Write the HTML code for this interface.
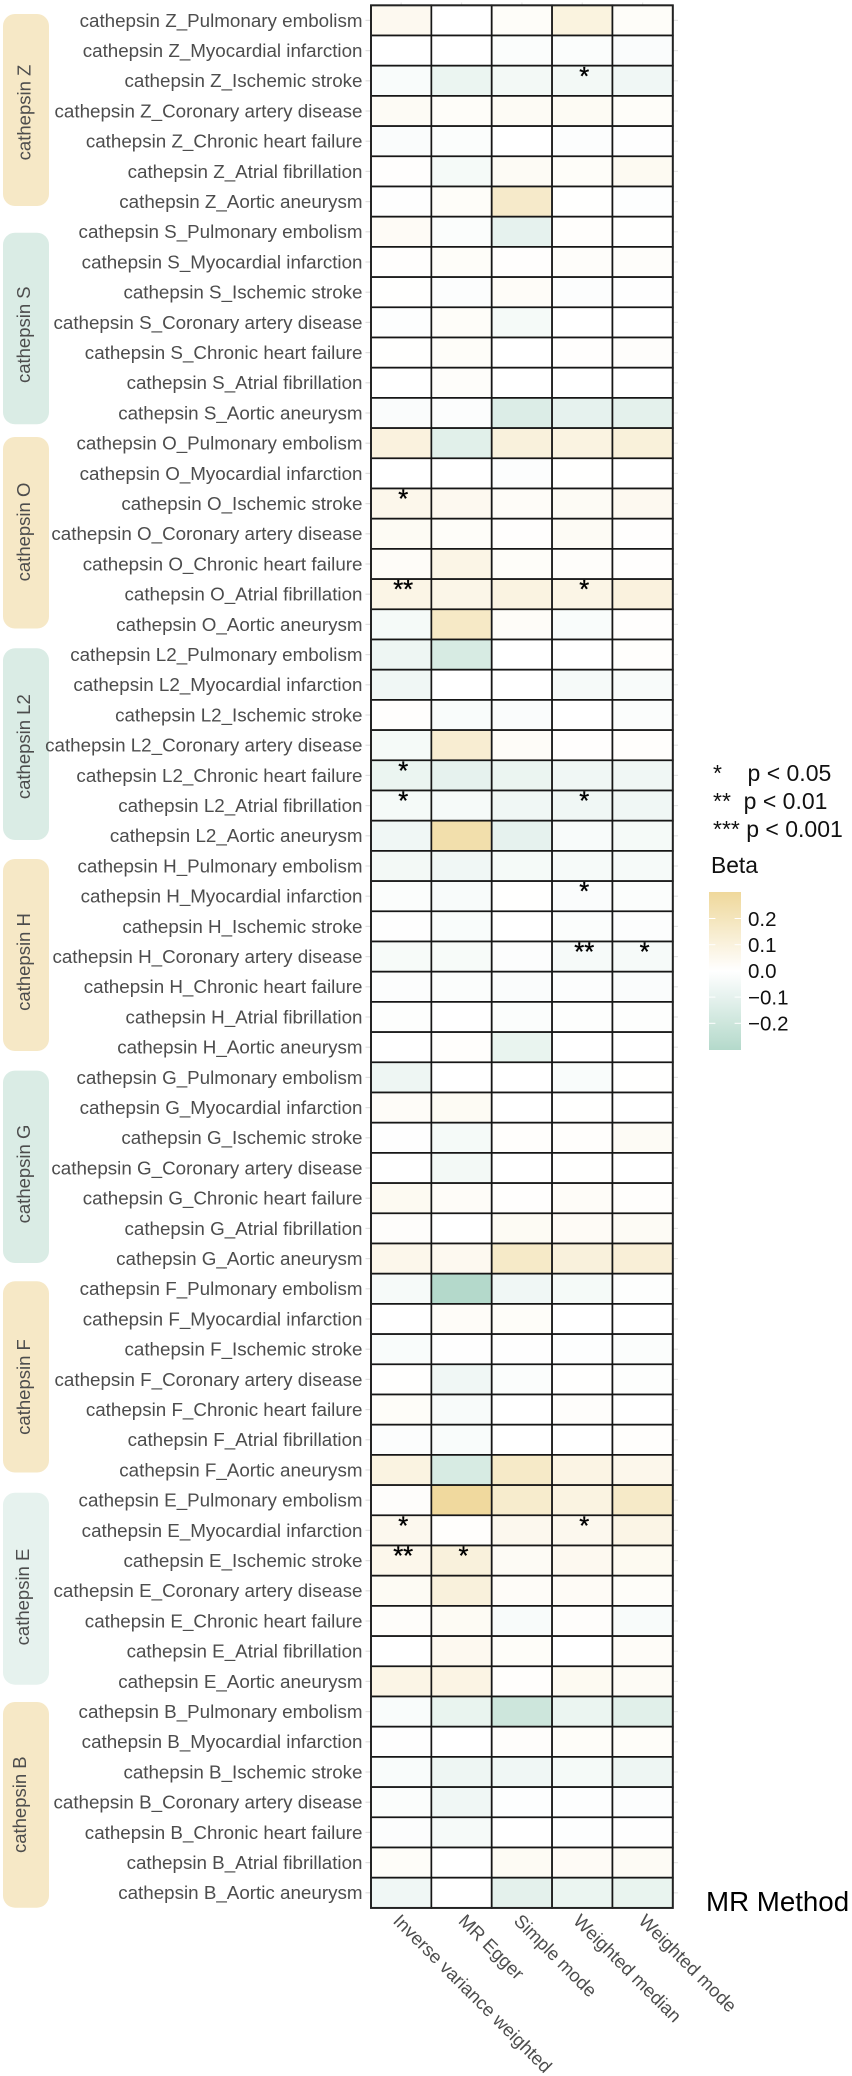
<!DOCTYPE html>
<html lang="en">
<head>
<meta charset="utf-8">
<title>Cathepsin MR heatmap</title>
<style>
html,body{margin:0;padding:0;background:#fff;}
body{width:852px;height:2076px;overflow:hidden;}
svg{display:block;}
text{font-family:"Liberation Sans",Arial,sans-serif;}
</style>
</head>
<body>
<svg id="chart" xmlns="http://www.w3.org/2000/svg" width="852" height="2076" viewBox="0 0 852 2076">
  <defs>
    <linearGradient id="beta-gradient" x1="0" y1="0" x2="0" y2="1"></linearGradient>
  </defs>
  <rect x="0" y="0" width="852" height="2076" fill="#ffffff"></rect>
  <g id="strips"></g>
  <g id="ticks"></g>
  <g id="row-labels"></g>
  <g id="cells"></g>
  <rect x="371" y="5.3" width="301.8" height="1902.6" fill="none" stroke="#222222" stroke-width="1.9"></rect>
  <g id="star-marks"></g>
  <g id="col-labels"></g>
  <text x="706" y="1911" font-size="27.7" fill="#000000">MR Method</text>
  <g font-size="23" fill="#111111" style="white-space:pre" xml:space="preserve">
    <text x="713" y="781" xml:space="preserve">*    p &lt; 0.05</text>
    <text x="713" y="809" xml:space="preserve">**  p &lt; 0.01</text>
    <text x="713" y="837" xml:space="preserve">*** p &lt; 0.001</text>
  </g>
  <text x="711" y="873" font-size="22.8" fill="#111111">Beta</text>
  <rect x="709" y="892" width="32" height="158" fill="url(#beta-gradient)"></rect>
  <g id="legend-ticks"></g>
</svg>
<script>
const methods = ["Inverse variance weighted", "MR Egger", "Simple mode", "Weighted median", "Weighted mode"];
const groupNames = ["cathepsin Z", "cathepsin S", "cathepsin O", "cathepsin L2", "cathepsin H", "cathepsin G", "cathepsin F", "cathepsin E", "cathepsin B"];
const stripFills = ["#f6e8c6", "#daece5", "#f6e8c6", "#daece5", "#f6e8c6", "#daece5", "#f6e8c6", "#e6f2ee", "#f6e8c6"];

const labelsZ = ["cathepsin Z_Pulmonary embolism", "cathepsin Z_Myocardial infarction", "cathepsin Z_Ischemic stroke", "cathepsin Z_Coronary artery disease", "cathepsin Z_Chronic heart failure", "cathepsin Z_Atrial fibrillation", "cathepsin Z_Aortic aneurysm"];
const labelsS = ["cathepsin S_Pulmonary embolism", "cathepsin S_Myocardial infarction", "cathepsin S_Ischemic stroke", "cathepsin S_Coronary artery disease", "cathepsin S_Chronic heart failure", "cathepsin S_Atrial fibrillation", "cathepsin S_Aortic aneurysm"];
const labelsO = ["cathepsin O_Pulmonary embolism", "cathepsin O_Myocardial infarction", "cathepsin O_Ischemic stroke", "cathepsin O_Coronary artery disease", "cathepsin O_Chronic heart failure", "cathepsin O_Atrial fibrillation", "cathepsin O_Aortic aneurysm"];
const labelsL2 = ["cathepsin L2_Pulmonary embolism", "cathepsin L2_Myocardial infarction", "cathepsin L2_Ischemic stroke", "cathepsin L2_Coronary artery disease", "cathepsin L2_Chronic heart failure", "cathepsin L2_Atrial fibrillation", "cathepsin L2_Aortic aneurysm"];
const labelsH = ["cathepsin H_Pulmonary embolism", "cathepsin H_Myocardial infarction", "cathepsin H_Ischemic stroke", "cathepsin H_Coronary artery disease", "cathepsin H_Chronic heart failure", "cathepsin H_Atrial fibrillation", "cathepsin H_Aortic aneurysm"];
const labelsG = ["cathepsin G_Pulmonary embolism", "cathepsin G_Myocardial infarction", "cathepsin G_Ischemic stroke", "cathepsin G_Coronary artery disease", "cathepsin G_Chronic heart failure", "cathepsin G_Atrial fibrillation", "cathepsin G_Aortic aneurysm"];
const labelsF = ["cathepsin F_Pulmonary embolism", "cathepsin F_Myocardial infarction", "cathepsin F_Ischemic stroke", "cathepsin F_Coronary artery disease", "cathepsin F_Chronic heart failure", "cathepsin F_Atrial fibrillation", "cathepsin F_Aortic aneurysm"];
const labelsE = ["cathepsin E_Pulmonary embolism", "cathepsin E_Myocardial infarction", "cathepsin E_Ischemic stroke", "cathepsin E_Coronary artery disease", "cathepsin E_Chronic heart failure", "cathepsin E_Atrial fibrillation", "cathepsin E_Aortic aneurysm"];
const labelsB = ["cathepsin B_Pulmonary embolism", "cathepsin B_Myocardial infarction", "cathepsin B_Ischemic stroke", "cathepsin B_Coronary artery disease", "cathepsin B_Chronic heart failure", "cathepsin B_Atrial fibrillation", "cathepsin B_Aortic aneurysm"];

const betaZ = [
  [0.045, 0, 0.018, 0.095, 0.018],
  [0, 0, -0.016, -0.016, -0.02],
  [-0.024, -0.08, -0.05, -0.05, -0.06],
  [0.03, 0.018, 0.03, 0.033, 0.018],
  [-0.02, -0.016, 0, -0.012, -0.006],
  [0.006, -0.04, 0.03, 0.018, 0.038],
  [-0.006, 0.018, 0.16, 0.003, -0.008]
];
const betaS = [
  [0.027, -0.016, -0.1, 0.009, 0.003],
  [0.006, 0.018, 0.005, 0.015, 0.015],
  [0.003, -0.014, 0.022, -0.012, -0.004],
  [-0.008, 0.018, -0.04, 0, 0],
  [0.003, 0.018, 0, 0.006, 0.012],
  [0, 0.015, 0, 0, 0],
  [-0.02, -0.012, -0.14, -0.1, -0.11]
];
const betaO = [
  [0.1, -0.12, 0.105, 0.09, 0.11],
  [0, 0, -0.012, 0.003, 0],
  [0.06, 0.045, 0.022, 0.03, 0.045],
  [0.033, 0.018, 0.006, 0.03, 0.005],
  [0.022, 0.075, 0.018, 0.015, 0.005],
  [0.075, 0.068, 0.09, 0.075, 0.1],
  [-0.04, 0.17, 0.022, -0.024, 0.005]
];
const betaL2 = [
  [-0.07, -0.16, 0, 0, 0.008],
  [-0.06, 0, 0, -0.036, -0.03],
  [0.005, -0.024, -0.02, 0, -0.016],
  [-0.04, 0.135, 0.022, 0.005, 0.009],
  [-0.08, -0.1, -0.08, -0.06, -0.06],
  [-0.04, -0.036, -0.06, -0.06, -0.06],
  [-0.06, 0.25, -0.1, -0.03, -0.04]
];
const betaH = [
  [-0.05, -0.06, -0.04, -0.036, -0.036],
  [-0.016, -0.03, 0.003, -0.02, -0.016],
  [-0.006, -0.024, 0, -0.016, -0.012],
  [-0.032, -0.032, -0.014, -0.036, -0.036],
  [-0.012, -0.016, -0.02, -0.012, -0.02],
  [-0.01, 0, -0.016, -0.01, -0.01],
  [0, 0.008, -0.09, 0, 0]
];
const betaG = [
  [-0.07, 0, 0, -0.024, 0.003],
  [0.022, 0.033, 0, 0.003, 0],
  [-0.004, -0.04, 0.009, 0.009, 0.03],
  [0, -0.05, 0, 0.003, 0],
  [0.038, 0.022, 0.005, 0.022, 0.009],
  [0.012, 0, 0.033, 0.027, 0.03],
  [0.06, 0.045, 0.165, 0.105, 0.12]
];
const betaF = [
  [-0.036, -0.3, -0.06, -0.04, -0.01],
  [0, 0.022, 0.018, 0, 0],
  [-0.024, -0.006, -0.004, -0.008, -0.016],
  [0.003, -0.06, -0.016, 0.003, -0.01],
  [0.018, -0.03, 0, 0.012, 0],
  [-0.012, -0.024, 0, 0, 0.009],
  [0.09, -0.16, 0.165, 0.082, 0.06]
];
const betaE = [
  [0.012, 0.29, 0.15, 0.09, 0.165],
  [0.052, 0.009, 0.052, 0.052, 0.075],
  [0.06, 0.105, 0.03, 0.045, 0.042],
  [0.033, 0.105, 0.022, 0.027, 0.018],
  [0.015, 0.033, -0.03, 0.012, -0.03],
  [0, 0.045, 0.018, 0, 0.022],
  [0.075, 0.082, 0.008, 0.038, 0.03]
];
const betaB = [
  [-0.024, -0.09, -0.2, -0.08, -0.12],
  [-0.006, 0, 0.012, 0.018, 0.018],
  [-0.024, -0.07, -0.06, -0.04, -0.07],
  [-0.016, -0.06, -0.008, -0.008, -0.012],
  [-0.012, -0.036, 0, -0.008, -0.006],
  [0.018, 0, 0.033, 0.027, 0.03],
  [-0.06, 0, -0.11, -0.08, -0.09]
];

const starsZ = [["", "", "", "", ""], ["", "", "", "", ""], ["", "", "", "*", ""], ["", "", "", "", ""], ["", "", "", "", ""], ["", "", "", "", ""], ["", "", "", "", ""]];
const starsS = [["", "", "", "", ""], ["", "", "", "", ""], ["", "", "", "", ""], ["", "", "", "", ""], ["", "", "", "", ""], ["", "", "", "", ""], ["", "", "", "", ""]];
const starsO = [["", "", "", "", ""], ["", "", "", "", ""], ["*", "", "", "", ""], ["", "", "", "", ""], ["", "", "", "", ""], ["**", "", "", "*", ""], ["", "", "", "", ""]];
const starsL2 = [["", "", "", "", ""], ["", "", "", "", ""], ["", "", "", "", ""], ["", "", "", "", ""], ["*", "", "", "", ""], ["*", "", "", "*", ""], ["", "", "", "", ""]];
const starsH = [["", "", "", "", ""], ["", "", "", "*", ""], ["", "", "", "", ""], ["", "", "", "**", "*"], ["", "", "", "", ""], ["", "", "", "", ""], ["", "", "", "", ""]];
const starsG = [["", "", "", "", ""], ["", "", "", "", ""], ["", "", "", "", ""], ["", "", "", "", ""], ["", "", "", "", ""], ["", "", "", "", ""], ["", "", "", "", ""]];
const starsF = [["", "", "", "", ""], ["", "", "", "", ""], ["", "", "", "", ""], ["", "", "", "", ""], ["", "", "", "", ""], ["", "", "", "", ""], ["", "", "", "", ""]];
const starsE = [["", "", "", "", ""], ["*", "", "", "*", ""], ["**", "*", "", "", ""], ["", "", "", "", ""], ["", "", "", "", ""], ["", "", "", "", ""], ["", "", "", "", ""]];
const starsB = [["", "", "", "", ""], ["", "", "", "", ""], ["", "", "", "", ""], ["", "", "", "", ""], ["", "", "", "", ""], ["", "", "", "", ""], ["", "", "", "", ""]];

const legendTicks = [0.2, 0.1, 0, -0.1, -0.2];
const legendTickLabels = ["0.2", "0.1", "0.0", "\u22120.1", "\u22120.2"];

const rowLabels = [].concat(labelsZ, labelsS, labelsO, labelsL2, labelsH, labelsG, labelsF, labelsE, labelsB);
const betaRows = [].concat(betaZ, betaS, betaO, betaL2, betaH, betaG, betaF, betaE, betaB);
const starRows = [].concat(starsZ, starsS, starsO, starsL2, starsH, starsG, starsF, starsE, starsB);

const SVGNS = "http://www.w3.org/2000/svg";
const panelTop = 5.3, panelBottom = 1907.9, panelLeft = 371, panelRight = 672.8;
const rowStep = (panelBottom - panelTop) / rowLabels.length;
const colStep = (panelRight - panelLeft) / methods.length;

function xLeft(c) { return panelLeft + c * colStep; }
function xMid(c) { return xLeft(c) + colStep / 2; }
function yTop(r) { return panelTop + r * rowStep; }
function yMid(r) { return yTop(r) + rowStep / 2; }
function legendY(v) { return 970.9 - v * 262; }

const warmEnd = [239, 216, 155];
const coolEnd = [180, 217, 203];
function fillFor(v) {
  const t = Math.min(1, Math.abs(v) / 0.3);
  const end = v >= 0 ? warmEnd : coolEnd;
  const ch = end.map(function (e) { return Math.round(255 + (e - 255) * t); });
  return "rgb(" + ch.join(",") + ")";
}
function make(tag, attrs, parent) {
  const el = document.createElementNS(SVGNS, tag);
  Object.keys(attrs).forEach(function (k) { el.setAttribute(k, attrs[k]); });
  parent.appendChild(el);
  return el;
}

/* strip layout of the hand-assembled figure: [top, bottom, label centre, label baseline] */
const stripLayout = [
  [14, 206, 112.5, 30.5], [232.7, 424.3, 334.7, 30], [437, 628.5, 532, 30],
  [648.3, 840, 746.7, 30], [859, 1051, 962, 30], [1070.6, 1263, 1174, 30],
  [1281.3, 1472.5, 1387, 30], [1492.7, 1684.7, 1597, 29], [1702, 1907.7, 1804.7, 26]
];

const strips = document.getElementById("strips");
groupNames.forEach(function (name, g) {
  const box = stripLayout[g];
  const rect = make("rect", { x: 3, y: box[0], width: 46, height: box[1] - box[0], rx: 12, ry: 12, fill: stripFills[g] }, strips);
  
  
  const label = make("text", { x: box[3], y: box[2], "font-size": 18.5, fill: "#4d4d4d", "text-anchor": "middle", transform: "rotate(-90 " + box[3] + " " + box[2] + ")" }, strips);
  
  
  label.textContent = name;
});

const ticks = document.getElementById("ticks");
rowLabels.forEach(function (label, r) {
  const y = yMid(r);
  const leftTick = make("line", { x1: 365.5, x2: 371, y1: y, y2: y, stroke: "#dedede", "stroke-width": 1.2 }, ticks);
  
  
  const rightTick = make("line", { x1: 673, x2: 678, y1: y, y2: y, stroke: "#e6e6e6", "stroke-width": 1.2 }, ticks);
  
  
});
methods.forEach(function (m, c) {
  const x = xMid(c);
  const topTick = make("line", { x1: x, x2: x, y1: 2.5, y2: 5, stroke: "#e6e6e6", "stroke-width": 1.2 }, ticks);
  
  
});

const rowLabelGroup = document.getElementById("row-labels");
rowLabels.forEach(function (label, r) {
  const t = make("text", { x: 362.5, y: yMid(r) + 6.4, "font-size": 18.8, fill: "#4d4d4d", "text-anchor": "end" }, rowLabelGroup);
  
  
  t.textContent = label;
});

const cells = document.getElementById("cells");
betaRows.forEach(function (row, r) {
  row.forEach(function (v, c) {
    const cell = make("rect", { x: xLeft(c), y: yTop(r), width: colStep, height: rowStep, fill: fillFor(v), stroke: "#161616", "stroke-width": 1.7 }, cells);
    
    
  });
});

const starMarks = document.getElementById("star-marks");
starRows.forEach(function (row, r) {
  row.forEach(function (s, c) {
    if (!s) { return; }
    const star = make("text", { x: xMid(c) + 2, y: yMid(r) + 4, "font-size": 25.6, fill: "#000000", stroke: "#000000", "stroke-width": 0.35, "text-anchor": "middle" }, starMarks);
    
    
    star.textContent = s;
  });
});

const colLabelNudge = [3, 8, 3, 2, 7];
const colLabels = document.getElementById("col-labels");
methods.forEach(function (m, c) {
  const x = xMid(c) - 12 + colLabelNudge[c];
  const y = 1922;
  const t = make("text", { x: x, y: y, "font-size": 18.5, fill: "#4d4d4d", transform: "rotate(45 " + x + " " + y + ")" }, colLabels);
  
  
  t.textContent = m;
});

const gradient = document.getElementById("beta-gradient");
[0.302, 0.2, 0.1, 0, -0.1, -0.2, -0.302].forEach(function (v) {
  const stop = make("stop", { offset: (0.302 - v) / 0.604, "stop-color": fillFor(v) }, gradient);
  
  
});

const legendGroup = document.getElementById("legend-ticks");
legendTicks.forEach(function (v, i) {
  const y = legendY(v);
  const a = make("line", { x1: 709, x2: 715.4, y1: y, y2: y, stroke: "#ffffff", "stroke-width": 1 }, legendGroup);
  
  
  const b = make("line", { x1: 734.6, x2: 741, y1: y, y2: y, stroke: "#ffffff", "stroke-width": 1 }, legendGroup);
  
  
  const t = make("text", { x: 748, y: y + 7.3, "font-size": 20.5, fill: "#111111" }, legendGroup);
  
  
  t.textContent = legendTickLabels[i];
});
</script>
</body>
</html>
